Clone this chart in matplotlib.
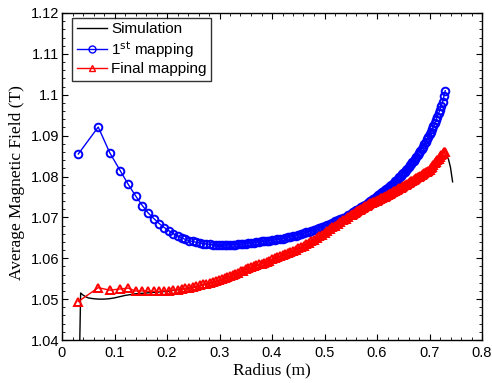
import matplotlib
matplotlib.use("Agg")
import matplotlib.pyplot as plt
from matplotlib.ticker import MultipleLocator, FuncFormatter

# ---------------- data ----------------
radius = [0.031, 0.069, 0.091, 0.111, 0.126, 0.140, 0.153, 0.164, 0.175, 0.185,
          0.195, 0.204, 0.212, 0.220, 0.228, 0.235, 0.242, 0.249, 0.256, 0.263,
          0.269, 0.275, 0.281, 0.287, 0.293, 0.299, 0.305, 0.310, 0.315, 0.320,
          0.325, 0.330, 0.335, 0.340, 0.345, 0.350, 0.355, 0.360, 0.365, 0.370,
          0.375, 0.380, 0.385, 0.390, 0.395, 0.400, 0.405, 0.410, 0.415, 0.420,
          0.425, 0.430, 0.435, 0.440, 0.445, 0.450, 0.455, 0.460, 0.465, 0.470,
          0.475, 0.480, 0.485, 0.490, 0.495, 0.500, 0.505, 0.510, 0.515, 0.520,
          0.525, 0.530, 0.535, 0.540, 0.545,
          0.5500, 0.5525, 0.5550, 0.5575, 0.5600, 0.5625, 0.5650, 0.5675, 0.5700, 0.5725,
          0.5750, 0.5775, 0.5800, 0.5825, 0.5850, 0.5875, 0.5900, 0.5925, 0.5950, 0.5975,
          0.6000, 0.6025, 0.6050, 0.6075, 0.6100, 0.6125, 0.6150, 0.6175, 0.6200, 0.6225,
          0.6250, 0.6275, 0.6300, 0.6325, 0.6350, 0.6375, 0.6400, 0.6425, 0.6450, 0.6475,
          0.6500, 0.6525, 0.6550, 0.6575, 0.6600, 0.6625, 0.6650, 0.6675, 0.6700, 0.6725,
          0.6750, 0.6775, 0.6800, 0.6825, 0.6850, 0.6875, 0.6900, 0.6925, 0.6950, 0.6975,
          0.7000, 0.7025, 0.7050, 0.7075, 0.7100, 0.7125, 0.7150, 0.7175, 0.7200, 0.7225,
          0.7250, 0.7275, 0.7300]

first_mapping = [1.0855, 1.0921, 1.0858, 1.0814, 1.0781, 1.0753, 1.0729, 1.0711, 1.0697, 1.0685,
                 1.0675, 1.0667, 1.0660, 1.0655, 1.0650, 1.0646, 1.0643, 1.0641, 1.0639, 1.0637,
                 1.0636, 1.0635, 1.0634, 1.0633, 1.0633, 1.0632, 1.0632, 1.0632, 1.0632, 1.0633,
                 1.0633, 1.0633, 1.0634, 1.0634, 1.0635, 1.0636, 1.0637, 1.0638, 1.0638, 1.0639,
                 1.0640, 1.0641, 1.0642, 1.0642, 1.0643, 1.0644, 1.0645, 1.0646, 1.0647, 1.0648,
                 1.0649, 1.0651, 1.0652, 1.0654, 1.0655, 1.0657, 1.0659, 1.0661, 1.0663, 1.0665,
                 1.0667, 1.0669, 1.0671, 1.0674, 1.0676, 1.0679, 1.0681, 1.0684, 1.0687, 1.0690,
                 1.0693, 1.0696, 1.0699, 1.0702, 1.0706,
                 1.0709, 1.0711, 1.0713, 1.0715, 1.0717, 1.0719, 1.0721, 1.0723, 1.0725, 1.0727,
                 1.0729, 1.0731, 1.0733, 1.0735, 1.0737, 1.0740, 1.0742, 1.0744, 1.0746, 1.0749,
                 1.0751, 1.0754, 1.0756, 1.0759, 1.0761, 1.0764, 1.0766, 1.0769, 1.0771, 1.0774,
                 1.0777, 1.0780, 1.0782, 1.0785, 1.0788, 1.0791, 1.0795, 1.0798, 1.0801, 1.0805,
                 1.0808, 1.0812, 1.0815, 1.0819, 1.0823, 1.0827, 1.0831, 1.0835, 1.0839, 1.0844,
                 1.0848, 1.0853, 1.0857, 1.0862, 1.0867, 1.0873, 1.0879, 1.0885, 1.0891, 1.0897,
                 1.0903, 1.0910, 1.0916, 1.0924, 1.0931, 1.0939, 1.0946, 1.0955, 1.0963, 1.0973,
                 1.0983, 1.0996, 1.1010]

final_mapping = [1.0494, 1.0528, 1.0522, 1.0525, 1.0527, 1.0520, 1.0520, 1.0519, 1.0519, 1.0519,
                 1.0520, 1.0521, 1.0522, 1.0523, 1.0525, 1.0526, 1.0528, 1.0530, 1.0532, 1.0534,
                 1.0536, 1.0538, 1.0540, 1.0542, 1.0544, 1.0546, 1.0549, 1.0551, 1.0553, 1.0556,
                 1.0559, 1.0562, 1.0565, 1.0568, 1.0570, 1.0573, 1.0575, 1.0578, 1.0580, 1.0583,
                 1.0585, 1.0587, 1.0589, 1.0592, 1.0594, 1.0597, 1.0600, 1.0602, 1.0605, 1.0607,
                 1.0610, 1.0613, 1.0615, 1.0618, 1.0621, 1.0624, 1.0627, 1.0630, 1.0634, 1.0637,
                 1.0641, 1.0645, 1.0649, 1.0654, 1.0658, 1.0662, 1.0667, 1.0671, 1.0676, 1.0680,
                 1.0684, 1.0689, 1.0693, 1.0697, 1.0701,
                 1.0705, 1.0707, 1.0709, 1.0711, 1.0713, 1.0715, 1.0717, 1.0719, 1.0721, 1.0723,
                 1.0725, 1.0727, 1.0728, 1.0730, 1.0732, 1.0734, 1.0735, 1.0737, 1.0738, 1.0740,
                 1.0741, 1.0743, 1.0745, 1.0747, 1.0748, 1.0750, 1.0751, 1.0753, 1.0755, 1.0757,
                 1.0758, 1.0760, 1.0762, 1.0764, 1.0765, 1.0767, 1.0769, 1.0771, 1.0772, 1.0774,
                 1.0776, 1.0778, 1.0780, 1.0782, 1.0784, 1.0786, 1.0788, 1.0790, 1.0792, 1.0794,
                 1.0796, 1.0798, 1.0800, 1.0802, 1.0804, 1.0806, 1.0808, 1.0810, 1.0812, 1.0814,
                 1.0817, 1.0820, 1.0824, 1.0828, 1.0832, 1.0836, 1.0840, 1.0844, 1.0848, 1.0852,
                 1.0856, 1.0859, 1.0861]

sim_radius = [0.0325, 0.0355, 0.040, 0.045, 0.050, 0.060, 0.070, 0.080, 0.090, 0.100,
              0.110, 0.120, 0.130, 0.140, 0.150, 0.170, 0.200, 0.250, 0.300, 0.350,
              0.400, 0.450, 0.480, 0.500, 0.520, 0.540, 0.560, 0.580, 0.600, 0.620,
              0.640, 0.660, 0.680, 0.700, 0.710, 0.720, 0.728, 0.732, 0.736, 0.740,
              0.744]
simulation = [1.0300, 1.0515, 1.0510, 1.0506, 1.0503, 1.0501, 1.0500, 1.0500, 1.0501, 1.0503,
              1.0506, 1.0509, 1.0511, 1.0513, 1.0514, 1.0516, 1.0519, 1.0529, 1.0545, 1.0572,
              1.0596, 1.0623, 1.0644, 1.0659, 1.0673, 1.0690, 1.0706, 1.0722, 1.0735, 1.0748,
              1.0764, 1.0778, 1.0793, 1.0809, 1.0822, 1.0838, 1.0850, 1.0852, 1.0843, 1.0822,
              1.0787]

labels = ["Simulation", r"1$^{\mathrm{st}}$ mapping", "Final mapping"]

# ---------------- plot ----------------
plt.rcParams["font.family"] = ["Liberation Sans", "DejaVu Sans"]
plt.rcParams["mathtext.default"] = "regular"

fig = plt.figure(figsize=(4.92, 3.83), dpi=100)
ax = fig.add_axes([62 / 492, 1 - 340 / 383, 420 / 492, 327 / 383])

ax.plot(sim_radius, simulation, color="black", lw=1.0, label=labels[0])
ax.plot(radius, first_mapping, color="blue", lw=1.0, marker="o", ms=5.5,
        mfc="none", mec="blue", mew=1.4, label=labels[1])
ax.plot(radius, final_mapping, color="red", lw=1.0, marker="^", ms=6,
        mfc="none", mec="red", mew=1.4, label=labels[2])

ax.set_xlim(0, 0.8)
ax.set_ylim(1.04, 1.12)
ax.xaxis.set_major_locator(MultipleLocator(0.1))
ax.xaxis.set_minor_locator(MultipleLocator(0.02))
ax.yaxis.set_major_locator(MultipleLocator(0.01))
ax.yaxis.set_minor_locator(MultipleLocator(0.002))
fmt = FuncFormatter(lambda v, p: ("%.2f" % v).rstrip("0").rstrip(".") if abs(v) > 1e-9 else "0")
ax.xaxis.set_major_formatter(fmt)
ax.yaxis.set_major_formatter(fmt)

ax.tick_params(which="both", direction="in", top=True, right=True, labelsize=10.5)
ax.tick_params(which="major", length=4, width=0.8)
ax.tick_params(which="minor", length=2.2, width=0.6)
ax.tick_params(axis="y", pad=2)
ax.tick_params(axis="x", pad=4)
for s in ax.spines.values():
    s.set_linewidth(1.0)

ax.set_xlabel("Radius (m)", family="Liberation Serif", fontsize=12.5, labelpad=2)
ax.set_ylabel("Average Magnetic Field (T)", family="Liberation Serif", fontsize=12.5)
ax.yaxis.set_label_coords(-0.088, 0.482)

leg = ax.legend(loc="upper left", bbox_to_anchor=(0.024, 0.985), borderaxespad=0,
                fontsize=11, frameon=True, fancybox=False, edgecolor="black",
                handlelength=2.0, handletextpad=0.25, borderpad=0.3, labelspacing=0.15)
leg.get_frame().set_linewidth(1.0)
for h in leg.legend_handles:
    h.set_markeredgewidth(1.0)
    h.set_markersize(5)

fig.savefig("out.png", dpi=100)
